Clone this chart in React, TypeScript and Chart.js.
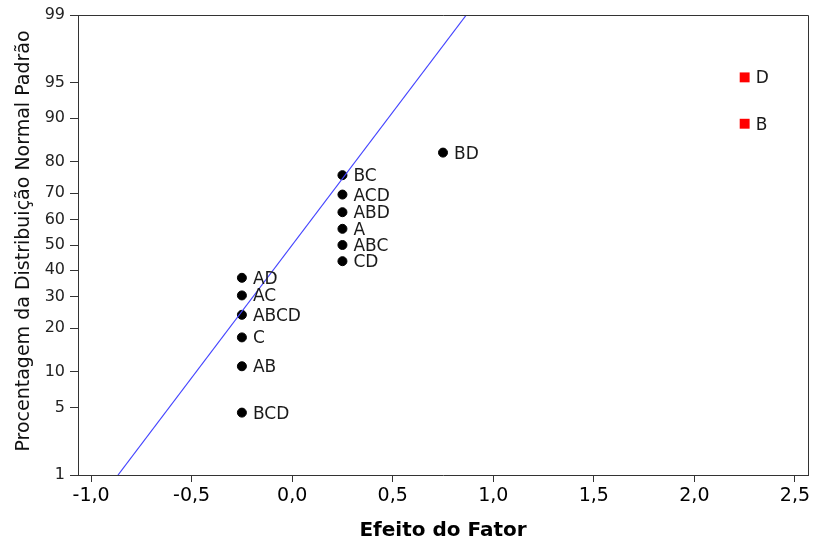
import React, { useEffect, useRef } from "react";
import { Chart, registerables } from "chart.js";

Chart.register(...registerables);

// ---- Data ----
const effectNames = ["BCD", "AB", "C", "ABCD", "AC", "AD", "CD", "ABC", "A", "ABD", "ACD", "BC", "BD", "B", "D"];
const effectValues = [-0.25, -0.25, -0.25, -0.25, -0.25, -0.25, 0.25, 0.25, 0.25, 0.25, 0.25, 0.25, 0.75, 2.25, 2.25];
const percentValues = [4.5, 11.0, 17.5, 24.0, 30.5, 37.0, 43.5, 50.0, 56.5, 63.0, 69.5, 76.0, 82.5, 89.0, 95.5];
const significantFlags = [false, false, false, false, false, false, false, false, false, false, false, false, false, true, true];

const fitLineX = [-0.866, 0.866];
const fitLinePercent = [1, 99];

const yTickPercents = [1, 5, 10, 20, 30, 40, 50, 60, 70, 80, 90, 95, 99];
const xTickValues = [-1.0, -0.5, 0.0, 0.5, 1.0, 1.5, 2.0, 2.5];

const xAxisTitle = "Efeito do Fator";
const yAxisTitle = "Procentagem da Distribuição Normal Padrão";

// inverse standard normal CDF (Acklam)
function normInv(p: number): number {
  const a = [-3.969683028665376e1, 2.209460984245205e2, -2.759285104469687e2, 1.38357751867269e2, -3.066479806614716e1, 2.506628277459239];
  const b = [-5.447609879822406e1, 1.615858368580409e2, -1.556989798598866e2, 6.680131188771972e1, -1.328068155288572e1];
  const c = [-7.784894002430293e-3, -3.223964580411365e-1, -2.400758277161838, -2.549732539343734, 4.374664141464968, 2.938163982698783];
  const d = [7.784695709041462e-3, 3.224671290700398e-1, 2.445134137142996, 3.754408661907416];
  const pl = 0.02425;
  let q: number, r: number;
  if (p < pl) {
    q = Math.sqrt(-2 * Math.log(p));
    return (((((c[0] * q + c[1]) * q + c[2]) * q + c[3]) * q + c[4]) * q + c[5]) / ((((d[0] * q + d[1]) * q + d[2]) * q + d[3]) * q + 1);
  } else if (p <= 1 - pl) {
    q = p - 0.5;
    r = q * q;
    return ((((((a[0] * r + a[1]) * r + a[2]) * r + a[3]) * r + a[4]) * r + a[5]) * q) / (((((b[0] * r + b[1]) * r + b[2]) * r + b[3]) * r + b[4]) * r + 1);
  } else {
    q = Math.sqrt(-2 * Math.log(1 - p));
    return -(((((c[0] * q + c[1]) * q + c[2]) * q + c[3]) * q + c[4]) * q + c[5]) / ((((d[0] * q + d[1]) * q + d[2]) * q + d[3]) * q + 1);
  }
}
const z = (pct: number) => normInv(pct / 100);

const FONT = "'DejaVu Sans', Verdana, sans-serif";

export default function App() {
  const ref = useRef<HTMLCanvasElement | null>(null);

  useEffect(() => {
    if (!ref.current) return;

    const normalPts: any[] = [];
    const sigPts: any[] = [];
    effectNames.forEach((n, i) => {
      const pt = { x: effectValues[i], y: z(percentValues[i]), name: n };
      (significantFlags[i] ? sigPts : normalPts).push(pt);
    });

    const framePlugin = {
      id: "frameAndTitles",
      afterDraw(chart: any) {
        const { ctx, chartArea } = chart;
        ctx.save();
        ctx.strokeStyle = "#333";
        ctx.lineWidth = 1;
        ctx.beginPath();
        ctx.moveTo(chartArea.left, chartArea.top + 0.5);
        ctx.lineTo(chartArea.right + 0.5, chartArea.top + 0.5);
        ctx.lineTo(chartArea.right + 0.5, chartArea.bottom);
        ctx.stroke();

        ctx.fillStyle = "#000";
        ctx.font = `bold 20px ${FONT}`;
        ctx.textAlign = "center";
        ctx.textBaseline = "alphabetic";
        ctx.fillText(xAxisTitle, (chartArea.left + chartArea.right) / 2, 536);

        ctx.translate(29, (chartArea.top + chartArea.bottom) / 2 - 4);
        ctx.rotate(-Math.PI / 2);
        ctx.font = `19px ${FONT}`;
        ctx.fillStyle = "#111";
        ctx.fillText(yAxisTitle, 0, 0);
        ctx.restore();
      },
      afterDatasetsDraw(chart: any) {
        const { ctx } = chart;
        ctx.save();
        ctx.font = `17px ${FONT}`;
        ctx.fillStyle = "#1a1a1a";
        ctx.textAlign = "left";
        ctx.textBaseline = "alphabetic";
        [1, 2].forEach((di) => {
          const meta = chart.getDatasetMeta(di);
          const ds = chart.data.datasets[di];
          meta.data.forEach((el: any, i: number) => {
            ctx.fillText(ds.data[i].name, el.x + 11, el.y + 6);
          });
        });
        ctx.restore();
      },
    };

    const chart = new Chart(ref.current, {
      type: "scatter",
      data: {
        datasets: [
          {
            data: fitLineX.map((x, i) => ({ x, y: z(fitLinePercent[i]) })),
            showLine: true,
            borderColor: "#4444ff",
            borderWidth: 1.2,
            pointRadius: 0,
          },
          {
            data: normalPts,
            backgroundColor: "#000",
            borderColor: "#000",
            pointRadius: 4.5,
            pointStyle: "circle",
          },
          {
            data: sigPts,
            backgroundColor: "#ff0000",
            borderColor: "#ff0000",
            pointRadius: 7,
            pointStyle: "rect",
            borderWidth: 0,
          },
        ] as any,
      },
      options: {
        responsive: false,
        animation: false,
        layout: { padding: { left: 0, top: 15, right: 6, bottom: 0 } },
        plugins: { legend: { display: false }, tooltip: { enabled: false } },
        scales: {
          x: {
            type: "linear",
            min: -1.065,
            max: 2.565,
            afterBuildTicks: (axis: any) => {
              axis.ticks = xTickValues.map((v) => ({ value: v }));
            },
            afterFit: (axis: any) => {
              axis.height = 69;
            },
            ticks: {
              callback: (v: any) => Number(v).toFixed(1).replace(".", ","),
              font: { family: FONT, size: 19 },
              color: "#000",
              padding: 3,
              maxRotation: 0,
              autoSkip: false,
            },
            grid: { display: true, drawOnChartArea: false, drawTicks: true, tickLength: 7, color: "#333" },
            border: { display: true, color: "#333" },
          },
          y: {
            type: "linear",
            min: z(1),
            max: z(99),
            afterBuildTicks: (axis: any) => {
              axis.ticks = yTickPercents.map((p) => ({ value: z(p) }));
            },
            afterFit: (axis: any) => {
              axis.width = 78;
            },
            ticks: {
              callback: (_v: any, i: number) => String(yTickPercents[i]),
              font: { family: FONT, size: 16 },
              color: "#222",
              padding: 5,
              autoSkip: false,
            },
            grid: { display: true, drawOnChartArea: false, drawTicks: true, tickLength: 8, color: "#333" },
            border: { display: true, color: "#333" },
          },
        },
      } as any,
      plugins: [framePlugin],
    });

    return () => chart.destroy();
  }, []);

  return (
    <div style={{ position: "absolute", left: 0, top: 0, width: 815, height: 544, background: "#fff" }}>
      <canvas ref={ref} width={815} height={544} />
    </div>
  );
}
